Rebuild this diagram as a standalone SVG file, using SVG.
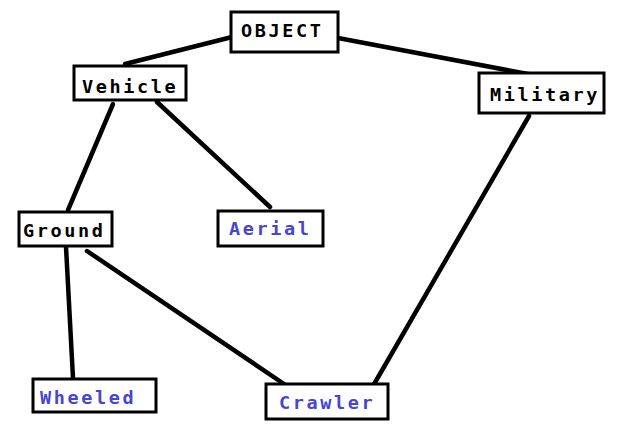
<svg xmlns="http://www.w3.org/2000/svg" width="640" height="440" viewBox="0 0 640 440">
<style>
.box{fill:#fff;stroke:#000;stroke-width:3}
.t{font-family:"DejaVu Sans Mono","Liberation Mono",monospace;font-weight:bold;font-size:18.5px;letter-spacing:2.6px;fill:#000}
.b{fill:#4646d2}
.c line{stroke:#000;stroke-width:4.5;stroke-linecap:round}
</style>
<rect width="640" height="440" fill="#fff"/>
<g id="connectors" class="c">
<line x1="236" y1="36" x2="125" y2="64"/>
<line x1="338" y1="38" x2="528" y2="74"/>
<line x1="113" y1="104" x2="68" y2="210"/>
<line x1="157" y1="102" x2="270" y2="207"/>
<line x1="529" y1="116" x2="373" y2="386"/>
<line x1="66" y1="247" x2="73" y2="378"/>
<line x1="87" y1="251" x2="287" y2="386"/>
</g>
<g id="OBJECT"><rect class="box" x="231" y="12" width="107" height="40"/><text class="t" x="241" y="37">OBJECT</text></g>
<g id="Vehicle"><rect class="box" x="74" y="66" width="112" height="34"/><text class="t" x="82" y="93">Vehicle</text></g>
<g id="Military"><rect class="box" x="479" y="73" width="125" height="40"/><text class="t" x="490" y="101">Military</text></g>
<g id="Ground"><rect class="box" x="19" y="212" width="93" height="34"/><text class="t" x="23" y="237">Ground</text></g>
<g id="Aerial"><rect class="box" x="218" y="211" width="105" height="35"/><text class="t b" x="229" y="235">Aerial</text></g>
<g id="Wheeled"><rect class="box" x="33" y="379" width="123" height="33"/><text class="t b" x="40" y="404">Wheeled</text></g>
<g id="Crawler"><rect class="box" x="266" y="384" width="122" height="35"/><text class="t b" x="279" y="409">Crawler</text></g>
</svg>
